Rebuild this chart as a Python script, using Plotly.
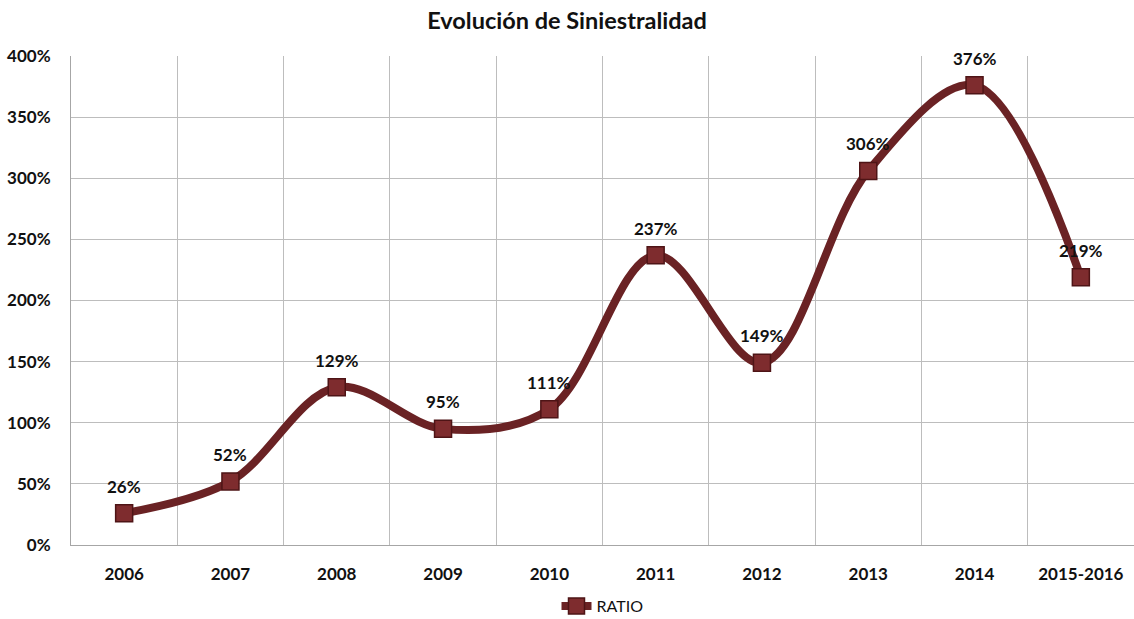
import plotly.graph_objects as go

categories = ["2006", "2007", "2008", "2009", "2010", "2011", "2012", "2013", "2014", "2015-2016"]
ratio = [26, 52, 129, 95, 111, 237, 149, 306, 376, 219]
labels = [f"{v}%" for v in ratio]
ytick_vals = [0, 50, 100, 150, 200, 250, 300, 350, 400]
ytick_text = [f"{v}%" for v in ytick_vals]

xs = list(range(len(categories)))
boundaries = [i + 0.5 for i in range(len(categories) - 1)]

FONT = "Lato"

fig = go.Figure()
# hidden trace on secondary x-axis to draw gridlines at category boundaries
fig.add_trace(go.Scatter(x=boundaries, y=[None] * len(boundaries), xaxis="x2",
                         showlegend=False, hoverinfo="skip"))
fig.add_trace(go.Scatter(
    x=xs, y=ratio, mode="lines+markers", name="RATIO",
    line=dict(color="#6A2224", width=8, shape="spline", smoothing=1.0),
    marker=dict(symbol="square", size=17, color="#7E2C2E",
                line=dict(color="#4E1416", width=1.5)),
    cliponaxis=False,
))

for x, v, t in zip(xs, ratio, labels):
    fig.add_annotation(x=x, y=v, text=f"<b>{t}</b>", showarrow=False, yshift=27,
                       font=dict(family=FONT, size=17, color="#111111"))

fig.update_layout(
    width=1134, height=619,
    margin=dict(l=71, r=0, t=56, b=74, autoexpand=False),
    paper_bgcolor="white", plot_bgcolor="white",
    title=dict(text="<b>Evolución de Siniestralidad</b>", x=0.5, xanchor="center",
               y=0.967, yanchor="middle",
               font=dict(family=FONT, size=23.5, color="#111111")),
    xaxis=dict(range=[-0.5, 9.5], tickvals=xs, ticktext=[f"<b>{c}</b>" for c in categories],
               showgrid=False, automargin=False,
               zeroline=False, showline=True, linecolor="#A6A6A6", linewidth=1,
               tickfont=dict(family=FONT, size=17, color="#111111"),
               ticks="", ticklabelstandoff=14),
    xaxis2=dict(range=[-0.5, 9.5], overlaying="x", tickvals=boundaries,
                showticklabels=False, showgrid=True, gridcolor="#BDBDBD", gridwidth=1,
                zeroline=False, showline=False, automargin=False),
    yaxis=dict(range=[0, 400], tickvals=ytick_vals, ticktext=[f"<b>{t}</b>" for t in ytick_text],
               showgrid=True, gridcolor="#BDBDBD", gridwidth=1, zeroline=False,
               showline=True, linecolor="#A6A6A6", linewidth=1, automargin=False,
               tickfont=dict(family=FONT, size=17, color="#111111"),
               ticks="", ticklabelstandoff=16),
    legend=dict(orientation="h", x=0.5, xanchor="center", y=-0.09, yanchor="top",
                font=dict(family=FONT, size=16, color="#111111")),
    showlegend=True,
)

fig.write_html("out.html", config={"displayModeBar": False},
               post_script="document.body.style.margin='0';document.body.style.overflow='hidden';")
